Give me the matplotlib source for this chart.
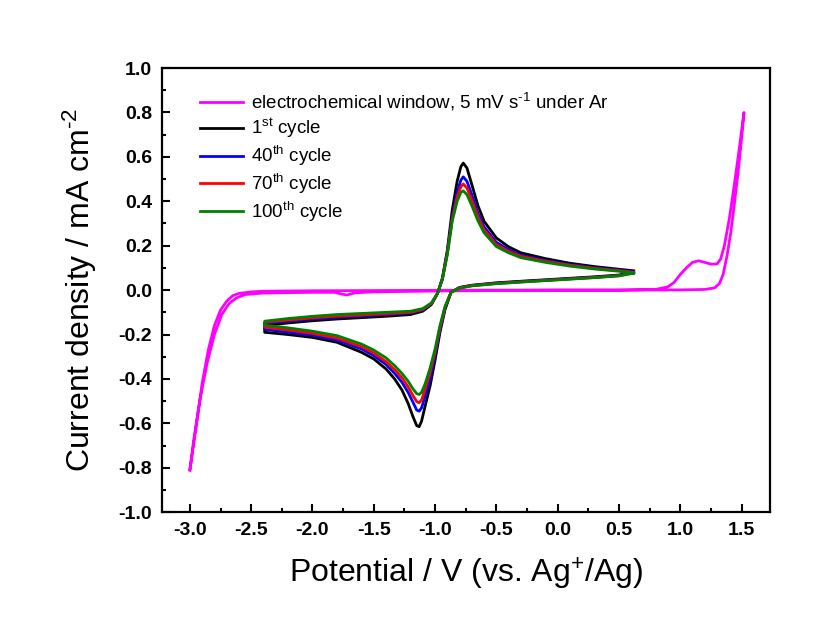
import matplotlib
matplotlib.use("Agg")
import matplotlib.pyplot as plt
from matplotlib.ticker import MultipleLocator, FormatStrFormatter

plt.rcParams['font.family'] = ['Liberation Sans', 'DejaVu Sans']
plt.rcParams['mathtext.fontset'] = 'custom'
plt.rcParams['mathtext.rm'] = 'Liberation Sans'
plt.rcParams['mathtext.it'] = 'Liberation Sans:italic'
plt.rcParams['mathtext.bf'] = 'Liberation Sans:bold'

# ---- electrochemical window (magenta) ----
win_E = [-3.0, -2.95, -2.9, -2.85, -2.8, -2.75, -2.7, -2.65, -2.6, -2.5, -2.4, -2.0, -1.5, -1.0,
         -0.5, 0.0, 0.5, 0.8, 0.9, 0.95, 1.0, 1.05, 1.1, 1.15, 1.2, 1.25, 1.3, 1.33, 1.36, 1.4,
         1.44, 1.48, 1.52,
         1.5, 1.47, 1.44, 1.41, 1.38, 1.35, 1.32, 1.28, 1.2, 1.0, 0.5, 0.0, -0.5, -1.0, -1.5,
         -1.65, -1.72, -1.76, -1.82, -2.0, -2.4, -2.55, -2.62, -2.68, -2.74, -2.8, -2.86, -2.92, -2.97, -3.0]
win_j = [-0.81, -0.62, -0.42, -0.27, -0.16, -0.09, -0.05, -0.025, -0.015, -0.008, -0.005, -0.003, -0.002, -0.001,
         0.0, 0.0, 0.0, 0.003, 0.015, 0.035, 0.07, 0.1, 0.125, 0.132, 0.125, 0.117, 0.118, 0.14, 0.2, 0.32,
         0.47, 0.63, 0.80,
         0.68, 0.52, 0.38, 0.25, 0.15, 0.07, 0.03, 0.01, 0.003, 0.001, 0.0, 0.0, -0.002, -0.004, -0.008,
         -0.012, -0.022, -0.018, -0.01, -0.01, -0.013, -0.02, -0.035, -0.06, -0.11, -0.2, -0.33, -0.5, -0.68, -0.81]

# ---- CV cycles: cathodic (negative-going) branch then anodic (positive-going) branch ----
cath_E = [0.62, 0.5, 0.3, 0.0, -0.3, -0.5, -0.7, -0.8, -0.87, -0.92, -0.96, -1.0, -1.04, -1.08,
          -1.11, -1.13, -1.15, -1.18, -1.22, -1.27, -1.33, -1.4, -1.5, -1.6, -1.8, -2.0, -2.2, -2.39]
anod_E = [-2.39, -2.2, -2.0, -1.8, -1.6, -1.4, -1.2, -1.1, -1.03, -0.98, -0.94, -0.9, -0.86, -0.82,
          -0.79, -0.77, -0.74, -0.7, -0.65, -0.6, -0.5, -0.4, -0.3, -0.1, 0.1, 0.3, 0.5, 0.62]

c1_cath = [0.082, 0.068, 0.06, 0.05, 0.04, 0.033, 0.022, 0.012, -0.01, -0.09, -0.19, -0.315, -0.43, -0.52,
           -0.59, -0.615, -0.61, -0.57, -0.51, -0.45, -0.4, -0.355, -0.31, -0.28, -0.235, -0.213, -0.2, -0.19]
c1_anod = [-0.16, -0.148, -0.138, -0.13, -0.124, -0.118, -0.11, -0.095, -0.065, -0.015, 0.055, 0.18, 0.36, 0.49,
           0.555, 0.572, 0.55, 0.475, 0.38, 0.31, 0.235, 0.195, 0.168, 0.142, 0.121, 0.106, 0.094, 0.087]

c40_cath = [0.08, 0.066, 0.058, 0.048, 0.038, 0.031, 0.021, 0.011, -0.01, -0.085, -0.18, -0.295, -0.395, -0.475,
            -0.53, -0.545, -0.54, -0.505, -0.46, -0.415, -0.375, -0.335, -0.295, -0.265, -0.225, -0.203, -0.19, -0.177]
c40_anod = [-0.15, -0.14, -0.13, -0.122, -0.116, -0.11, -0.103, -0.09, -0.062, -0.015, 0.05, 0.17, 0.33, 0.44,
            0.495, 0.51, 0.49, 0.43, 0.345, 0.285, 0.215, 0.182, 0.157, 0.134, 0.115, 0.101, 0.09, 0.083]

c70_cath = [0.078, 0.065, 0.057, 0.047, 0.037, 0.03, 0.02, 0.01, -0.01, -0.08, -0.17, -0.28, -0.37, -0.445,
            -0.495, -0.507, -0.502, -0.475, -0.435, -0.395, -0.358, -0.322, -0.283, -0.255, -0.216, -0.195, -0.18, -0.167]
c70_anod = [-0.145, -0.135, -0.125, -0.117, -0.112, -0.106, -0.1, -0.087, -0.06, -0.015, 0.05, 0.165, 0.32, 0.42,
            0.465, 0.478, 0.46, 0.405, 0.33, 0.272, 0.205, 0.175, 0.152, 0.13, 0.112, 0.098, 0.088, 0.08]

c100_cath = [0.076, 0.064, 0.056, 0.046, 0.036, 0.029, 0.019, 0.009, -0.01, -0.075, -0.16, -0.265, -0.35, -0.42,
             -0.46, -0.47, -0.466, -0.445, -0.41, -0.375, -0.34, -0.305, -0.27, -0.243, -0.205, -0.185, -0.17, -0.158]
c100_anod = [-0.14, -0.128, -0.118, -0.11, -0.105, -0.1, -0.095, -0.083, -0.058, -0.015, 0.05, 0.16, 0.31, 0.4,
             0.44, 0.447, 0.43, 0.38, 0.312, 0.258, 0.196, 0.168, 0.146, 0.125, 0.108, 0.095, 0.085, 0.077]

labels = ['electrochemical window, 5 mV s$^{\u2010\\mathrm{1}}$ under Ar',
          '1$^{\\rm st}$ cycle', '40$^{\\rm th}$ cycle', '70$^{\\rm th}$ cycle', '100$^{\\rm th}$ cycle']
colors = ['#ff00ff', '#000000', '#0000ff', '#ff0000', '#008000']
xticks = [-3.0, -2.5, -2.0, -1.5, -1.0, -0.5, 0.0, 0.5, 1.0, 1.5]

fig = plt.figure(figsize=(8.25, 6.3), dpi=100)
ax = fig.add_axes([0.196, 0.187, 0.737, 0.705])

lw = 2.0
ax.plot(win_E, win_j, color=colors[0], lw=lw, label=labels[0])
cycles = [(c1_cath, c1_anod), (c40_cath, c40_anod), (c70_cath, c70_anod), (c100_cath, c100_anod)]
for (cc, ca), col, lab in zip(cycles, colors[1:], labels[1:]):
    ax.plot(cath_E + anod_E, cc + ca, color=col, lw=lw, label=lab)

ax.set_xlim(-3.23, 1.73)
ax.set_ylim(-1.0, 1.0)
ax.set_xticks(xticks)
ax.xaxis.set_minor_locator(MultipleLocator(0.25))
ax.yaxis.set_major_locator(MultipleLocator(0.2))
ax.yaxis.set_minor_locator(MultipleLocator(0.1))
ax.xaxis.set_major_formatter(FormatStrFormatter('%.1f'))
ax.yaxis.set_major_formatter(FormatStrFormatter('%.1f'))
ax.tick_params(which='both', direction='in', top=False, right=False, width=1.5)
ax.tick_params(which='major', length=6, labelsize=14, pad=7)
ax.tick_params(which='minor', length=3)
for lab in ax.get_xticklabels() + ax.get_yticklabels():
    lab.set_fontweight('bold')
for sp in ax.spines.values():
    sp.set_linewidth(1.6)

ax.set_xlabel('Potential / V (vs. Ag$^{+}$/Ag)', fontsize=23, labelpad=12)
ax.set_ylabel('Current density / mA cm$^{\u2010\\mathrm{2}}$', fontsize=23, labelpad=14)

ax.legend(loc='upper left', bbox_to_anchor=(0.045, 0.974), frameon=False, fontsize=13.5,
          handlelength=2.3, handletextpad=0.4, labelspacing=0.2, borderaxespad=0.2)

fig.savefig('out.png', dpi=100)
